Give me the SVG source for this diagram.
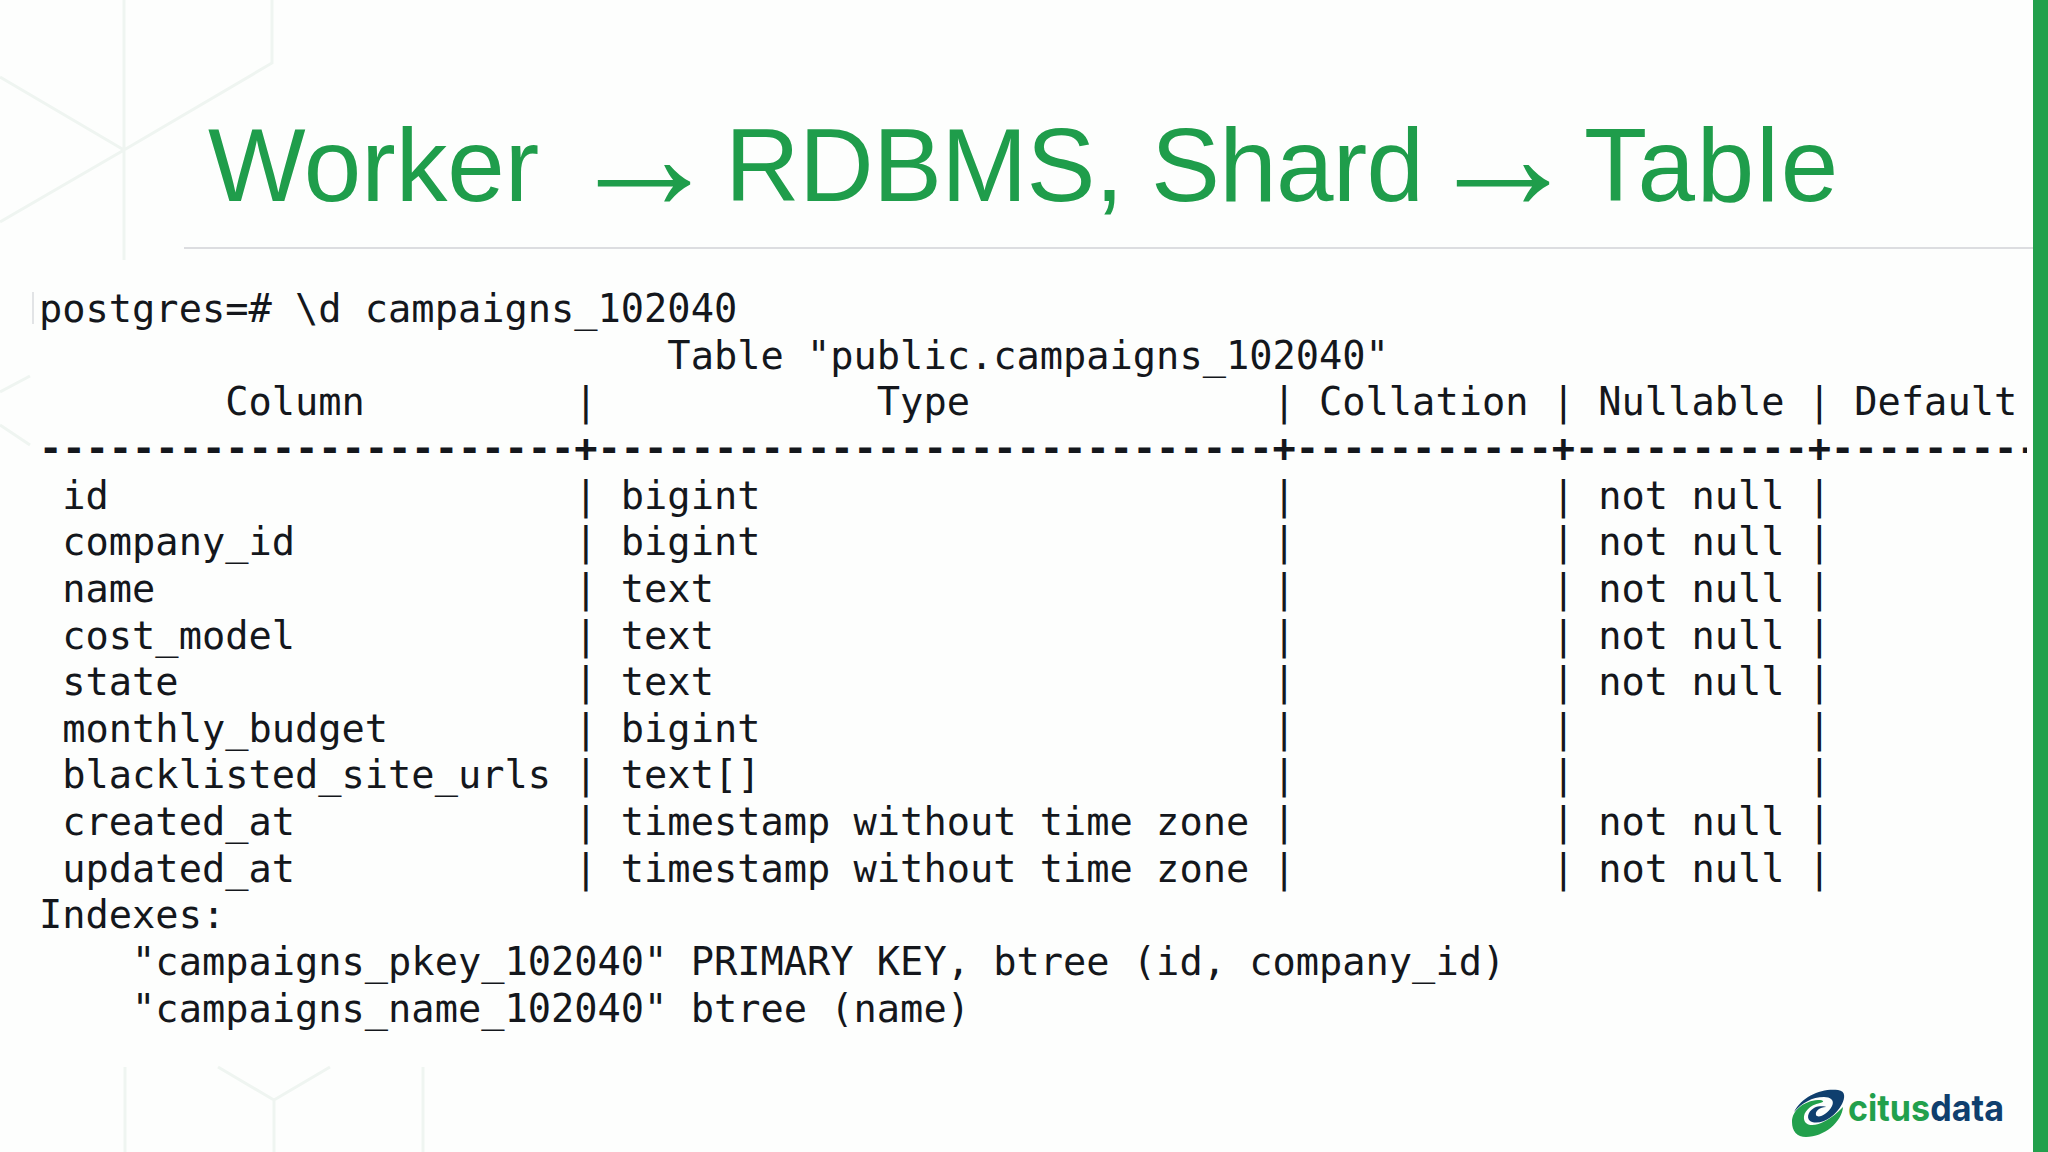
<svg xmlns="http://www.w3.org/2000/svg" width="2048" height="1152" viewBox="0 0 2048 1152">
<style>
.bg{fill:none;stroke:#eff5f1;stroke-width:3}
.t{font-family:"DejaVu Sans Mono","Liberation Mono",monospace;font-size:38.66px;fill:#14171c;white-space:pre}
.title{font-family:"Liberation Sans",Arial,sans-serif;font-size:103.4px;fill:#1f9d4b;white-space:pre}
.arrow{font-size:156px}
.logo{font-family:Inter,"Liberation Sans",sans-serif;font-weight:700;font-size:37px}
</style>
<defs><clipPath id="dashClip"><rect x="0" y="430" width="2027" height="50"/></clipPath></defs>
<rect width="2048" height="1152" fill="#fdfefd"/>
<g id="background">
<path class="bg" d="M124 0V260M272 0V63L124 150L0 222M0 77L124 150M30 376L0 392M0 425L30 445M125 1067V1152M274 1152V1100L218 1067M274 1100L330 1067M423 1067V1152"/>
</g>
<rect x="2033" width="15" height="1152" fill="#22a04c"/>
<text class="title" x="208" y="201">Worker<tspan class="arrow" x="566" y="209">→</tspan><tspan x="725" y="201" style="letter-spacing:-.7px">RDBMS, Shard</tspan><tspan class="arrow" x="1425" y="209">→</tspan><tspan x="1584" y="201" style="letter-spacing:1.8px">Table</tspan></text>
<rect x="184" y="247" width="1849" height="2" fill="#dcdde0"/>
<rect x="32" y="292" width="2" height="32" fill="#e2e4e6"/>
<g id="terminal">
<text class="t" x="39" y="322">postgres=# \d campaigns_102040</text>
<text class="t" x="39" y="369">                           Table "public.campaigns_102040"</text>
<text class="t" x="39" y="415">        Column         |            Type             | Collation | Nullable | Default</text>
<text class="t" x="39" y="462" style="font-weight:700" clip-path="url(#dashClip)">-----------------------+-----------------------------+-----------+----------+---------</text>
<text class="t" x="39" y="509"> id                    | bigint                      |           | not null |</text>
<text class="t" x="39" y="555"> company_id            | bigint                      |           | not null |</text>
<text class="t" x="39" y="602"> name                  | text                        |           | not null |</text>
<text class="t" x="39" y="649"> cost_model            | text                        |           | not null |</text>
<text class="t" x="39" y="695"> state                 | text                        |           | not null |</text>
<text class="t" x="39" y="742"> monthly_budget        | bigint                      |           |          |</text>
<text class="t" x="39" y="788"> blacklisted_site_urls | text[]                      |           |          |</text>
<text class="t" x="39" y="835"> created_at            | timestamp without time zone |           | not null |</text>
<text class="t" x="39" y="882"> updated_at            | timestamp without time zone |           | not null |</text>
<text class="t" x="39" y="928">Indexes:</text>
<text class="t" x="39" y="975">    "campaigns_pkey_102040" PRIMARY KEY, btree (id, company_id)</text>
<text class="t" x="39" y="1022">    "campaigns_name_102040" btree (name)</text>
</g>
<g id="logo">
<path fill="#0f3f6e" d="M1794 1112C1802 1096 1822 1088 1838 1090C1846 1091 1845 1098 1842 1104C1836 1116 1822 1125 1812 1122C1806 1120 1807 1112 1814 1108C1820 1105 1826 1107 1826 1107C1820 1107 1815 1111 1816 1115C1818 1119 1828 1114 1832 1106C1835 1100 1830 1097 1824 1097C1812 1097 1802 1103 1794 1112Z"/>
<path fill="#22a04c" d="M1792 1122C1792 1110 1804 1101 1818 1100C1824 1100 1825 1102 1820 1103C1810 1105 1803 1112 1804 1119C1806 1130 1825 1126 1843 1107C1842 1122 1824 1137 1806 1137C1797 1137 1792 1131 1792 1122Z"/>
<text class="logo" x="1848" y="1121" fill="#22a04c" textLength="156" lengthAdjust="spacingAndGlyphs">citus<tspan fill="#0f3f6e">data</tspan></text>
</g>
</svg>
